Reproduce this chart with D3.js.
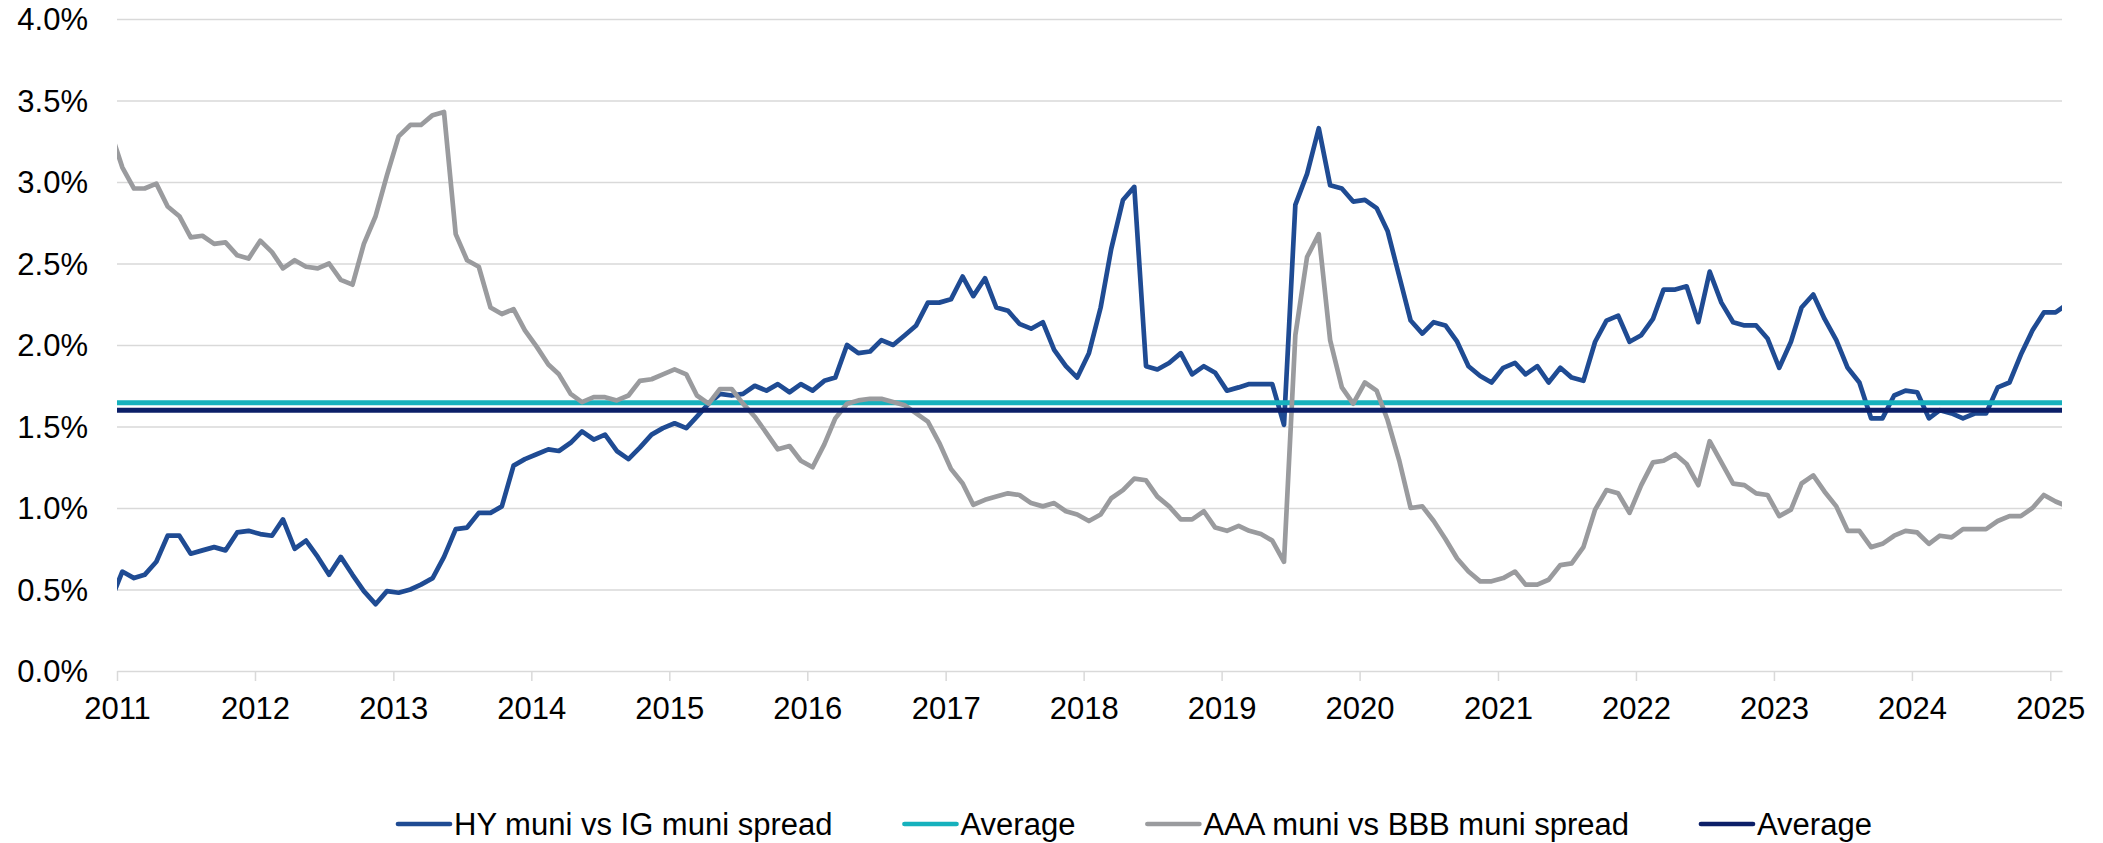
<!DOCTYPE html>
<html lang="en">
<head>
    <meta charset="UTF-8">
    <title>HY vs IG and AAA vs BBB muni spreads</title>
    <script src="https://d3js.org/d3.v7.min.js"></script>
    <style>
        body { margin: 0; padding: 0; background: #fff; }
        svg { display: block; }
        text { font-family: "Liberation Sans", Arial, sans-serif; fill: #000; }
    </style>
</head>
<body>

<div id="chart"></div>

<script>

    // Monthly readings, Dec 2010 .. Feb 2025 (first and last get clipped at the axis edges)
    const startYear = 2010, startMonth = 11;

    const hySpread = [
        0.43, 0.61, 0.57, 0.59, 0.67, 0.83, 0.83, 0.72, 0.74, 0.76, 0.74, 0.85, 0.86,
        0.84, 0.83, 0.93, 0.75, 0.80, 0.70, 0.59, 0.70, 0.59, 0.49, 0.41, 0.49,
        0.48, 0.50, 0.53, 0.57, 0.70, 0.87, 0.88, 0.97, 0.97, 1.01, 1.26, 1.30,
        1.33, 1.36, 1.35, 1.40, 1.47, 1.42, 1.45, 1.35, 1.30, 1.37, 1.45, 1.49,
        1.52, 1.49, 1.56, 1.64, 1.70, 1.69, 1.70, 1.75, 1.72, 1.76, 1.71, 1.76,
        1.72, 1.78, 1.80, 2.00, 1.95, 1.96, 2.03, 2.00, 2.06, 2.12, 2.26, 2.26,
        2.28, 2.42, 2.30, 2.41, 2.23, 2.21, 2.13, 2.10, 2.14, 1.97, 1.87, 1.80,
        1.95, 2.23, 2.59, 2.89, 2.97, 1.87, 1.85, 1.89, 1.95, 1.82, 1.87, 1.83,
        1.72, 1.74, 1.76, 1.76, 1.76, 1.51, 2.86, 3.05, 3.33, 2.98, 2.96, 2.88,
        2.89, 2.84, 2.70, 2.42, 2.15, 2.07, 2.14, 2.12, 2.02, 1.87, 1.81, 1.77,
        1.86, 1.89, 1.82, 1.87, 1.77, 1.86, 1.80, 1.78, 2.02, 2.15, 2.18, 2.02,
        2.06, 2.16, 2.34, 2.34, 2.36, 2.14, 2.45, 2.26, 2.14, 2.12, 2.12, 2.04,
        1.86, 2.02, 2.23, 2.31, 2.16, 2.03, 1.86, 1.77, 1.55, 1.55, 1.69, 1.72,
        1.71, 1.55, 1.60, 1.58, 1.55, 1.58, 1.58, 1.74, 1.77, 1.94, 2.09, 2.20,
        2.20, 2.25
    ];

    const aaaBbbSpread = [
        3.31, 3.09, 2.96, 2.96, 2.99, 2.85, 2.79, 2.66, 2.67, 2.62, 2.63, 2.55, 2.53,
        2.64, 2.57, 2.47, 2.52, 2.48, 2.47, 2.50, 2.40, 2.37, 2.62, 2.79, 3.04,
        3.28, 3.35, 3.35, 3.41, 3.43, 2.68, 2.52, 2.48, 2.23, 2.19, 2.22, 2.09,
        1.99, 1.88, 1.82, 1.70, 1.65, 1.68, 1.68, 1.66, 1.69, 1.78, 1.79, 1.82,
        1.85, 1.82, 1.69, 1.64, 1.73, 1.73, 1.64, 1.56, 1.46, 1.36, 1.38, 1.29,
        1.25, 1.39, 1.55, 1.64, 1.66, 1.67, 1.67, 1.65, 1.63, 1.58, 1.53, 1.40,
        1.24, 1.15, 1.02, 1.05, 1.07, 1.09, 1.08, 1.03, 1.01, 1.03, 0.98, 0.96,
        0.92, 0.96, 1.06, 1.11, 1.18, 1.17, 1.07, 1.01, 0.93, 0.93, 0.98, 0.88,
        0.86, 0.89, 0.86, 0.84, 0.80, 0.67, 2.06, 2.54, 2.68, 2.03, 1.74, 1.64,
        1.77, 1.72, 1.54, 1.29, 1.00, 1.01, 0.92, 0.81, 0.69, 0.61, 0.55, 0.55,
        0.57, 0.61, 0.53, 0.53, 0.56, 0.65, 0.66, 0.76, 0.99, 1.11, 1.09, 0.97,
        1.14, 1.28, 1.29, 1.33, 1.27, 1.14, 1.41, 1.28, 1.15, 1.14, 1.09, 1.08,
        0.95, 0.99, 1.15, 1.20, 1.10, 1.01, 0.86, 0.86, 0.76, 0.78, 0.83, 0.86,
        0.85, 0.78, 0.83, 0.82, 0.87, 0.87, 0.87, 0.92, 0.95, 0.95, 1.00, 1.08,
        1.04, 1.01
    ];

    // Averages as drawn on the chart
    const averages = [1.645, 1.60];

    const yTicks = [0, 0.5, 1.0, 1.5, 2.0, 2.5, 3.0, 3.5, 4.0];
    const xTickYears = d3.range(2011, 2026);

    const legendLabels = [
        "HY muni vs IG muni spread",
        "Average",
        "AAA muni vs BBB muni spread",
        "Average"
    ];
    const colors = ["#1f4b93", "#16b1bd", "#9a9b9e", "#0c1f68"];

    // Layout
    const width = 2103, height = 843;
    const plotLeft = 117, plotRight = 2062, plotTop = 19, plotBottom = 671;

    const svg = d3.select("#chart").append("svg")
        .attr("width", width)
        .attr("height", height);

    const x = d3.scaleTime()
        .domain([new Date(2011, 0, 1), new Date(2025, 1, 1)])
        .range([plotLeft, plotRight]);

    const y = d3.scaleLinear()
        .domain([0, 4])
        .range([plotBottom, plotTop]);

    // gridlines + y labels
    const yAxis = svg.append("g")
        .attr("transform", `translate(${plotLeft},0)`)
        .call(d3.axisLeft(y)
            .tickValues(yTicks.slice(1))
            .tickSize(-(plotRight - plotLeft))
            .tickPadding(29)
            .tickFormat(d => d3.format(".1f")(d) + "%"));
    yAxis.select(".domain").remove();
    yAxis.selectAll("line").attr("stroke", "#d9d9d9").attr("stroke-width", 1.5);
    yAxis.selectAll("text").attr("font-size", 31).attr("dy", "0.35em");

    // 0.0% label sits on the x axis line
    svg.append("text")
        .attr("x", plotLeft - 29)
        .attr("y", y(0))
        .attr("dy", "0.35em")
        .attr("text-anchor", "end")
        .attr("font-size", 31)
        .text(d3.format(".1f")(yTicks[0]) + "%");

    // x axis
    const xAxis = svg.append("g")
        .attr("transform", `translate(0,${plotBottom})`)
        .call(d3.axisBottom(x)
            .tickValues(xTickYears.map(yr => new Date(yr, 0, 1)))
            .tickSize(10)
            .tickSizeOuter(0)
            .tickPadding(16)
            .tickFormat(d3.timeFormat("%Y")));
    xAxis.select(".domain").attr("stroke", "#d9d9d9").attr("stroke-width", 1.5);
    xAxis.selectAll("line").attr("stroke", "#d9d9d9").attr("stroke-width", 1.5);
    xAxis.selectAll("text").attr("font-size", 31);

    // clip the lines to the plot area
    svg.append("clipPath").attr("id", "plot-clip")
        .append("rect")
        .attr("x", plotLeft).attr("y", 0)
        .attr("width", plotRight - plotLeft).attr("height", height);

    const toPoints = values => values.map((v, i) => ({
        date: new Date(startYear, startMonth + i, 15),
        value: v
    }));

    const line = d3.line()
        .x(d => x(d.date))
        .y(d => y(d.value));

    const plot = svg.append("g").attr("clip-path", "url(#plot-clip)");

    function drawSeries(values, color) {
        plot.append("path")
            .datum(toPoints(values))
            .attr("fill", "none")
            .attr("stroke", color)
            .attr("stroke-width", 4.7)
            .attr("stroke-linejoin", "round")
            .attr("d", line);
    }

    function drawAverage(value, color) {
        plot.append("line")
            .attr("x1", plotLeft).attr("x2", plotRight)
            .attr("y1", y(value)).attr("y2", y(value))
            .attr("stroke", color)
            .attr("stroke-width", 5);
    }

    // same order as the legend
    drawSeries(hySpread, colors[0]);
    drawAverage(averages[0], colors[1]);
    drawSeries(aaaBbbSpread, colors[2]);
    drawAverage(averages[1], colors[3]);

    // legend
    const legend = svg.append("g");
    let lx = 396;
    legendLabels.forEach((label, i) => {
        legend.append("line")
            .attr("x1", lx + 2).attr("x2", lx + 54)
            .attr("y1", 824).attr("y2", 824)
            .attr("stroke", colors[i])
            .attr("stroke-width", 4.7)
            .attr("stroke-linecap", "round");
        const t = legend.append("text")
            .attr("x", lx + 58)
            .attr("y", 835)
            .attr("font-size", 31)
            .text(label);
        lx += 58 + t.node().getComputedTextLength() + 70;
    });

</script>

</body>
</html>
